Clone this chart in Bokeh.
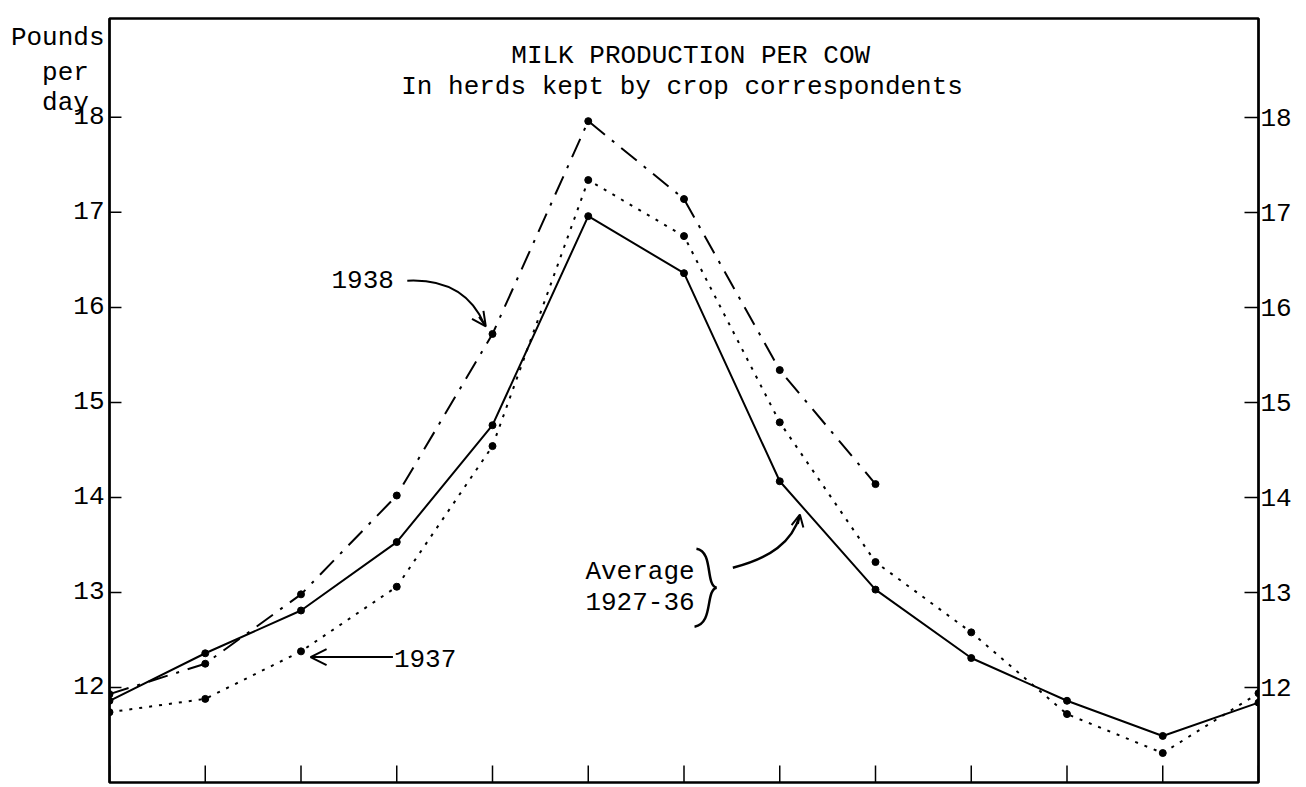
from bokeh.plotting import figure
from bokeh.models import Range1d, LinearAxis, FixedTicker, Label, Arrow, OpenHead
from bokeh.embed import file_html
from bokeh.resources import INLINE

# ---- data ----
months = list(range(13))  # Jan .. Jan of next year
average_1927_36 = [11.86, 12.36, 12.81, 13.53, 14.76, 16.96, 16.36, 14.17, 13.03, 12.31, 11.86, 11.49, 11.84]
y1937 = [11.74, 11.88, 12.38, 13.06, 14.54, 17.34, 16.75, 14.79, 13.32, 12.58, 11.72, 11.31, 11.94]
months_1938 = list(range(9))
y1938 = [11.93, 12.25, 12.98, 14.02, 15.72, 17.96, 17.14, 15.34, 14.14]
y_ticks = [12, 13, 14, 15, 16, 17, 18]
unit_lines = ["Pounds", "per\u00a0", "day\u00a0"]

FONT = "Liberation Mono"
FS = "26px"
Y0, Y1 = 11.0, 19.04

p = figure(width=1306, height=787, output_backend="svg", toolbar_location=None,
           x_range=Range1d(0, 12), y_range=Range1d(Y0, Y1),
           min_border_left=109, min_border_right=48, min_border_top=18, min_border_bottom=5,
           x_axis_location=None, y_axis_location=None)
p.grid.visible = False
p.outline_line_color = "black"
p.outline_line_width = 2.5
p.background_fill_color = "white"
p.border_fill_color = "white"

def style_axis(ax):
    ax.axis_line_color = "black"
    ax.axis_line_width = 2
    ax.major_tick_line_color = "black"
    ax.major_tick_line_width = 1.5
    ax.minor_tick_line_color = None
    ax.major_label_text_font = FONT
    ax.major_label_text_font_size = FS
    ax.major_label_text_color = "black"

# left axis: numbers plus the "Pounds per day" unit caption (no tick marks here)
unit_pos = [18.83, 18.47, 18.15]
left = LinearAxis(ticker=FixedTicker(ticks=y_ticks + unit_pos))
style_axis(left)
left.major_tick_in = 0
left.major_tick_out = 0
left.major_label_standoff = 5
left.major_label_overrides = {v: t for v, t in zip(unit_pos, unit_lines)}
p.add_layout(left, "left")

right = LinearAxis(ticker=FixedTicker(ticks=y_ticks))
style_axis(right)
right.major_tick_in = 14
right.major_tick_out = 0
right.major_label_standoff = 2
p.add_layout(right, "right")

# tick marks on left (inward) and bottom (inward), drawn through the scales
p.segment(x0=[0] * len(y_ticks), y0=y_ticks, x1=[0.125] * len(y_ticks), y1=y_ticks,
          line_color="black", line_width=1.5)
p.segment(x0=months, y0=[Y0] * len(months), x1=months, y1=[Y0 + 0.18] * len(months),
          line_color="black", line_width=1.5)

# ---- series ----
p.line(months, average_1927_36, line_color="black", line_width=2)
p.scatter(months, average_1927_36, size=7, color="black")

p.line(months, y1937, line_color="black", line_width=2, line_dash="3 7")
p.scatter(months, y1937, size=7, color="black")

p.line(months_1938, y1938, line_color="black", line_width=2, line_dash="20 9 3 9")
p.scatter(months_1938, y1938, size=7, color="black")

# ---- texts ----
def lab(x, y, t, align="left", base="middle"):
    p.add_layout(Label(x=x, y=y, text=t, text_font=FONT, text_font_size=FS,
                       text_color="black", text_align=align, text_baseline=base))

lab(6.07, 18.65, "MILK PRODUCTION PER COW", "center")
lab(5.98, 18.32, "In herds kept by crop correspondents", "center")

lab(2.97, 16.29, "1938", "right")
lab(2.97, 12.31, "1937", "left")
lab(4.97, 13.22, "Average", "left")
lab(4.97, 12.91, "1927-36", "left")

# ---- arrows / brace ----
# 1938 curved arrow
p.bezier(x0=[3.11], y0=[16.28], x1=[3.92], y1=[15.81],
         cx0=[3.53], cy0=[16.30], cx1=[3.79], cy1=[16.12], line_color="black", line_width=2)
p.add_layout(Arrow(x_start=3.86, y_start=15.90, x_end=3.93, y_end=15.80, line_color="black",
                   line_width=2, end=OpenHead(size=14, line_width=2, line_color="black")))

# 1937 straight arrow
p.add_layout(Arrow(x_start=2.96, y_start=12.32, x_end=2.10, y_end=12.32, line_color="black",
                   line_width=2, end=OpenHead(size=16, line_width=2, line_color="black")))

# Average curved arrow
p.bezier(x0=[6.51], y0=[13.26], x1=[7.21], y1=[13.81],
         cx0=[6.90], cy0=[13.36], cx1=[7.13], cy1=[13.53], line_color="black", line_width=2.5)
p.add_layout(Arrow(x_start=7.19, y_start=13.72, x_end=7.21, y_end=13.82, line_color="black",
                   line_width=2, end=OpenHead(size=12, line_width=2, line_color="black")))

# brace "}"
p.bezier(x0=[6.13], y0=[13.46], x1=[6.34], y1=[13.05],
         cx0=[6.31], cy0=[13.43], cx1=[6.22], cy1=[13.08], line_color="black", line_width=2.5)
p.bezier(x0=[6.34], y0=[13.05], x1=[6.11], y1=[12.64],
         cx0=[6.22], cy0=[13.02], cx1=[6.31], cy1=[12.67], line_color="black", line_width=2.5)

open("out.html", "w").write(file_html(p, INLINE))
